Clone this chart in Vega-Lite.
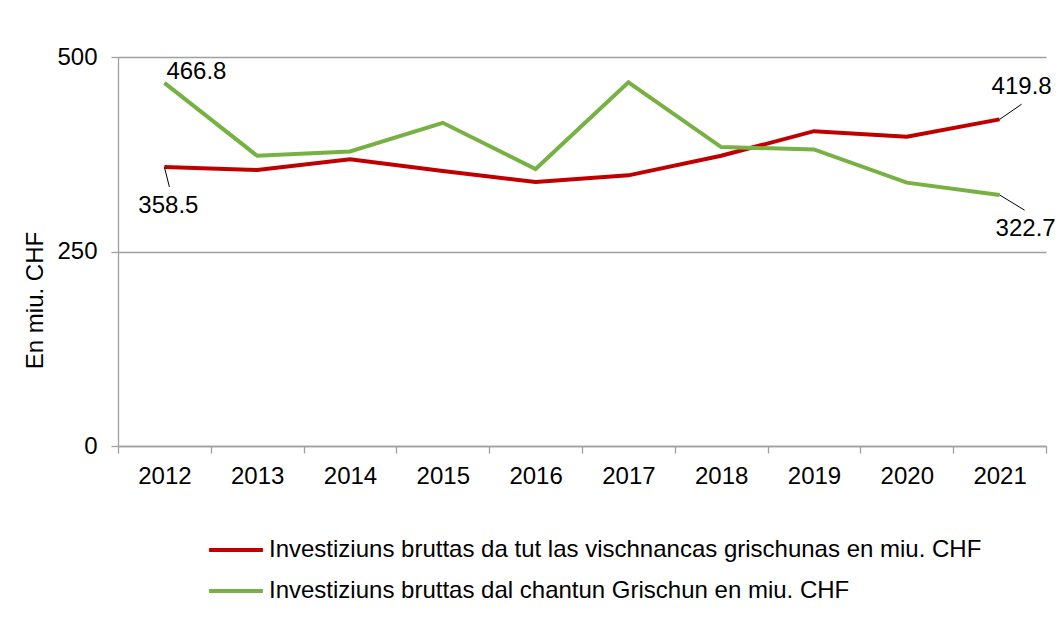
{
  "$schema": "https://vega.github.io/schema/vega-lite/v6.json",
  "width": 928,
  "height": 389,
  "autosize": {"type": "none"},
  "padding": {"left": 118, "top": 57, "right": 13, "bottom": 174},
  "background": "white",
  "config": {
    "font": "Liberation Sans",
    "view": {"stroke": null}
  },
  "datasets": {
    "series": [
      {"year": "2012", "series": "Investiziuns bruttas da tut las vischnancas grischunas en miu. CHF", "value": 358.5},
      {"year": "2013", "series": "Investiziuns bruttas da tut las vischnancas grischunas en miu. CHF", "value": 354.7},
      {"year": "2014", "series": "Investiziuns bruttas da tut las vischnancas grischunas en miu. CHF", "value": 368.4},
      {"year": "2015", "series": "Investiziuns bruttas da tut las vischnancas grischunas en miu. CHF", "value": 353.4},
      {"year": "2016", "series": "Investiziuns bruttas da tut las vischnancas grischunas en miu. CHF", "value": 339.3},
      {"year": "2017", "series": "Investiziuns bruttas da tut las vischnancas grischunas en miu. CHF", "value": 347.9},
      {"year": "2018", "series": "Investiziuns bruttas da tut las vischnancas grischunas en miu. CHF", "value": 373.0},
      {"year": "2019", "series": "Investiziuns bruttas da tut las vischnancas grischunas en miu. CHF", "value": 404.7},
      {"year": "2020", "series": "Investiziuns bruttas da tut las vischnancas grischunas en miu. CHF", "value": 397.4},
      {"year": "2021", "series": "Investiziuns bruttas da tut las vischnancas grischunas en miu. CHF", "value": 419.8},
      {"year": "2012", "series": "Investiziuns bruttas dal chantun Grischun en miu. CHF", "value": 466.8},
      {"year": "2013", "series": "Investiziuns bruttas dal chantun Grischun en miu. CHF", "value": 373.0},
      {"year": "2014", "series": "Investiziuns bruttas dal chantun Grischun en miu. CHF", "value": 378.6},
      {"year": "2015", "series": "Investiziuns bruttas dal chantun Grischun en miu. CHF", "value": 415.4},
      {"year": "2016", "series": "Investiziuns bruttas dal chantun Grischun en miu. CHF", "value": 356.0},
      {"year": "2017", "series": "Investiziuns bruttas dal chantun Grischun en miu. CHF", "value": 467.5},
      {"year": "2018", "series": "Investiziuns bruttas dal chantun Grischun en miu. CHF", "value": 384.2},
      {"year": "2019", "series": "Investiziuns bruttas dal chantun Grischun en miu. CHF", "value": 381.2},
      {"year": "2020", "series": "Investiziuns bruttas dal chantun Grischun en miu. CHF", "value": 338.5},
      {"year": "2021", "series": "Investiziuns bruttas dal chantun Grischun en miu. CHF", "value": 322.7}
    ],
    "labels": [
      {"id": "a", "year": "2012", "value": 466.8, "end": 466.8, "label": "466.8"},
      {"id": "b", "year": "2012", "value": 358.5, "end": 333.0, "label": "358.5"},
      {"id": "c", "year": "2021", "value": 419.8, "end": 439.3, "label": "419.8"},
      {"id": "d", "year": "2021", "value": 322.7, "end": 303.1, "label": "322.7"}
    ]
  },
  "encoding": {
    "x": {
      "field": "year",
      "type": "nominal",
      "scale": {"type": "band", "paddingInner": 0, "paddingOuter": 0},
      "axis": {
        "title": null,
        "labelAngle": 0,
        "labelFont": "Liberation Sans",
        "labelFontSize": 24,
        "labelColor": "#000000",
        "labelPadding": 11,
        "tickBand": "extent",
        "tickSize": 7,
        "tickColor": "#A0A0A0",
        "tickWidth": 1.3,
        "domainColor": "#A0A0A0",
        "domainWidth": 1.3,
        "grid": false
      }
    },
    "y": {
      "field": "value",
      "type": "quantitative",
      "scale": {"domain": [0, 500], "nice": false},
      "axis": {
        "title": "En miu. CHF",
        "titleFont": "Liberation Sans",
        "titleFontSize": 24,
        "titleFontWeight": "normal",
        "titleColor": "#000000",
        "titleAngle": -90,
        "titleX": -83,
        "titleY": 243,
        "titleAlign": "center",
        "titleBaseline": "middle",
        "values": [0, 250, 500],
        "labelFont": "Liberation Sans",
        "labelFontSize": 24,
        "labelColor": "#000000",
        "labelPadding": 14,
        "tickSize": 7,
        "tickColor": "#A0A0A0",
        "tickWidth": 1.3,
        "domainColor": "#A0A0A0",
        "domainWidth": 1.3,
        "grid": true,
        "gridColor": "#A0A0A0",
        "gridWidth": 1.3
      }
    }
  },
  "layer": [
    {
      "data": {"name": "series"},
      "mark": {"type": "line", "strokeWidth": 4},
      "encoding": {
        "color": {
          "field": "series",
          "type": "nominal",
          "scale": {
            "domain": ["Investiziuns bruttas da tut las vischnancas grischunas en miu. CHF", "Investiziuns bruttas dal chantun Grischun en miu. CHF"],
            "range": ["#C00000", "#77B143"]
          },
          "legend": {
            "title": null,
            "orient": "none",
            "legendX": 89,
            "legendY": 464,
            "padding": 0,
            "symbolType": "stroke",
            "symbolSize": 2900,
            "symbolStrokeWidth": 4,
            "labelFont": "Liberation Sans",
            "labelFontSize": 24,
            "labelColor": "#000000",
            "labelOffset": 4,
            "labelLimit": 900,
            "rowPadding": -12
          }
        }
      }
    },
    {
      "data": {"name": "labels"},
      "transform": [{"filter": "datum.id === 'b'"}],
      "mark": {"type": "rule", "color": "#000000", "strokeWidth": 1, "x2Offset": 5},
      "encoding": {
        "x2": {"field": "year"},
        "y2": {"field": "end"}
      }
    },
    {
      "data": {"name": "labels"},
      "transform": [{"filter": "datum.id === 'c'"}],
      "mark": {"type": "rule", "color": "#000000", "strokeWidth": 1, "x2Offset": 22},
      "encoding": {
        "x2": {"field": "year"},
        "y2": {"field": "end"}
      }
    },
    {
      "data": {"name": "labels"},
      "transform": [{"filter": "datum.id === 'd'"}],
      "mark": {"type": "rule", "color": "#000000", "strokeWidth": 1, "x2Offset": 25},
      "encoding": {
        "x2": {"field": "year"},
        "y2": {"field": "end"}
      }
    },
    {
      "data": {"name": "labels"},
      "transform": [{"filter": "datum.id === 'a'"}],
      "mark": {"type": "text", "align": "left", "baseline": "alphabetic", "dx": 2, "dy": -4, "fontSize": 24, "font": "Liberation Sans", "color": "#000000"},
      "encoding": {"text": {"field": "label"}}
    },
    {
      "data": {"name": "labels"},
      "transform": [{"filter": "datum.id === 'b'"}],
      "mark": {"type": "text", "align": "center", "baseline": "alphabetic", "dx": 4, "dy": 46, "fontSize": 24, "font": "Liberation Sans", "color": "#000000"},
      "encoding": {"text": {"field": "label"}}
    },
    {
      "data": {"name": "labels"},
      "transform": [{"filter": "datum.id === 'c'"}],
      "mark": {"type": "text", "align": "left", "baseline": "alphabetic", "dx": -8, "dy": -25, "fontSize": 24, "font": "Liberation Sans", "color": "#000000"},
      "encoding": {"text": {"field": "label"}}
    },
    {
      "data": {"name": "labels"},
      "transform": [{"filter": "datum.id === 'd'"}],
      "mark": {"type": "text", "align": "left", "baseline": "alphabetic", "dx": -4, "dy": 41, "fontSize": 24, "font": "Liberation Sans", "color": "#000000"},
      "encoding": {"text": {"field": "label"}}
    }
  ]
}
